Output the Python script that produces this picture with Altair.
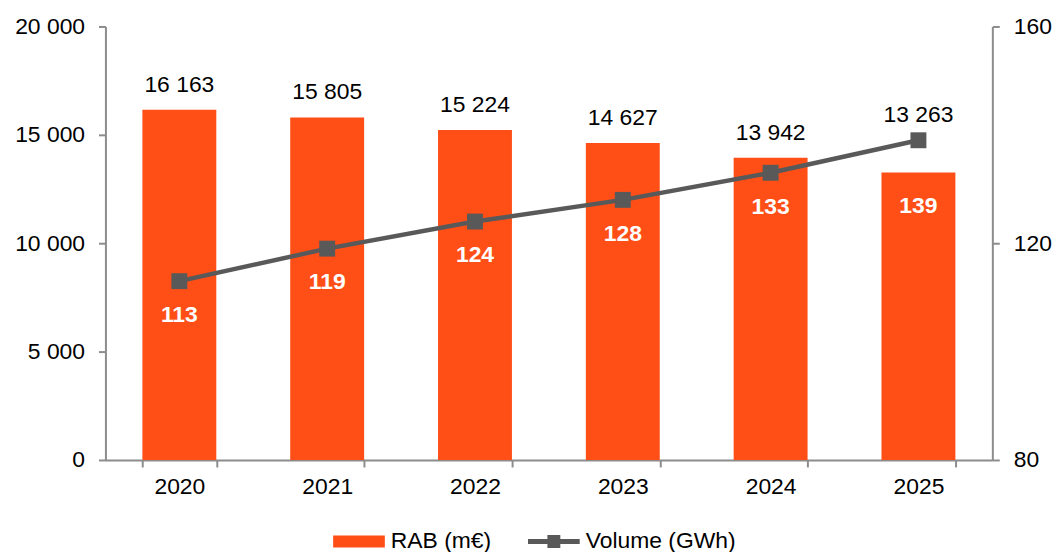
import altair as alt
import pandas as pd

# ---- data ----
years = ["2020", "2021", "2022", "2023", "2024", "2025"]
rab_values = [16163, 15805, 15224, 14627, 13942, 13263]
volume_values = [113, 119, 124, 128, 133, 139]
series_names = ["RAB (m€)", "Volume (GWh)"]
left_ticks = [0, 5000, 10000, 15000, 20000]
right_ticks = [80, 120, 160]

RAB_MIN, RAB_MAX = 0, 20000
VOL_MIN, VOL_MAX = 80, 160

df = pd.DataFrame({"year": years, "rab": rab_values, "volume": volume_values})
legend_df = pd.DataFrame({"series": series_names})

FONT = "Liberation Sans"
ORANGE = "#FF4F17"
GREY = "#595959"
AXIS_GREY = "#8C8C8C"
FS = 23

x_enc = alt.X(
    "year:N",
    title=None,
    scale=alt.Scale(paddingInner=0.5, paddingOuter=0.25),
    axis=alt.Axis(
        labelAngle=0, tickBand="extent", domainColor=AXIS_GREY, domainWidth=2,
        tickColor=AXIS_GREY, tickWidth=2, tickSize=7, labelFontSize=FS,
        labelFont=FONT, labelColor="black", labelPadding=9, grid=False,
    ),
)

left_scale = alt.Scale(domain=[RAB_MIN, RAB_MAX], nice=False, zero=True)
right_scale = alt.Scale(domain=[VOL_MIN, VOL_MAX], nice=False, zero=False)

left_axis = alt.Axis(
    values=left_ticks, labelExpr="replace(format(datum.value, ','), ',', ' ')",
    domainColor=AXIS_GREY, domainWidth=2, tickColor=AXIS_GREY, tickWidth=2,
    tickSize=7, labelPadding=14, labelFontSize=FS, labelFont=FONT,
    labelColor="black", grid=False, title=None, orient="left",
)
right_axis = alt.Axis(
    values=right_ticks, domainColor=AXIS_GREY, domainWidth=2,
    tickColor=AXIS_GREY, tickWidth=2, tickSize=7, labelPadding=14,
    labelFontSize=FS, labelFont=FONT, labelColor="black", grid=False,
    title=None, orient="right",
)

base = alt.Chart(df).transform_calculate(
    vol_in_rab=f"(datum.volume - {VOL_MIN}) * ({RAB_MAX} - {RAB_MIN}) / ({VOL_MAX} - {VOL_MIN}) + {RAB_MIN}",
).transform_calculate(
    top_anchor="max(datum.rab, datum.vol_in_rab)",
    low_anchor="min(datum.rab, datum.vol_in_rab)",
    rab_label="replace(format(datum.rab, ','), ',', ' ')",
)

bars = base.mark_bar(color=ORANGE, opacity=1).encode(
    x=x_enc,
    y=alt.Y("rab:Q", scale=left_scale, axis=left_axis, title=None),
)
bar_labels = base.mark_text(
    font=FONT, fontSize=FS, color="black", baseline="alphabetic", dy=-18
).encode(
    x=x_enc,
    y=alt.Y("top_anchor:Q", scale=left_scale, axis=left_axis, title=None),
    text="rab_label:N",
)
vol_labels = base.mark_text(
    font=FONT, fontSize=FS, fontWeight="bold", color="white",
    baseline="alphabetic", dy=41,
).encode(
    x=x_enc,
    y=alt.Y("low_anchor:Q", scale=left_scale, axis=left_axis, title=None),
    text="volume:Q",
)
left_layer = alt.layer(bars, bar_labels, vol_labels)

line = base.mark_line(color=GREY, strokeWidth=4.5).encode(
    x=x_enc,
    y=alt.Y("volume:Q", scale=right_scale, axis=right_axis, title=None),
)
squares = base.mark_square(color=GREY, size=256, opacity=1).encode(
    x=x_enc,
    y=alt.Y("volume:Q", scale=right_scale, axis=right_axis, title=None),
)
right_layer = alt.layer(line, squares)

rect_path = "M-1,-0.23L1,-0.23L1,0.23L-1,0.23Z"
line_path = "M-1,-0.1L1,-0.1L1,0.1L-1,0.1Z M-0.25,-0.25L0.25,-0.25L0.25,0.25L-0.25,0.25Z"

legend_def = alt.Legend(
    title=None, orient="none", legendX=229, legendY=492, direction="horizontal",
    symbolSize=2704, symbolStrokeWidth=0, labelFont=FONT, labelFontSize=FS,
    labelColor="black", labelOffset=6, columnPadding=37, padding=0,
)
legend_layer = alt.Chart(legend_df).transform_filter("false").mark_point(
    filled=True, opacity=1
).encode(
    color=alt.Color("series:N", scale=alt.Scale(domain=series_names, range=[ORANGE, GREY]), legend=legend_def),
    shape=alt.Shape("series:N", scale=alt.Scale(domain=series_names, range=[rect_path, line_path]), legend=legend_def),
)

chart = (
    alt.layer(left_layer, right_layer, legend_layer)
    .resolve_scale(y="independent")
    .properties(width=892, height=436, padding={"left": 6, "top": 6, "right": 0, "bottom": 0})
    .configure_view(stroke=None)
)

chart.save("out.html", embed_options={"renderer": "svg", "actions": False})
